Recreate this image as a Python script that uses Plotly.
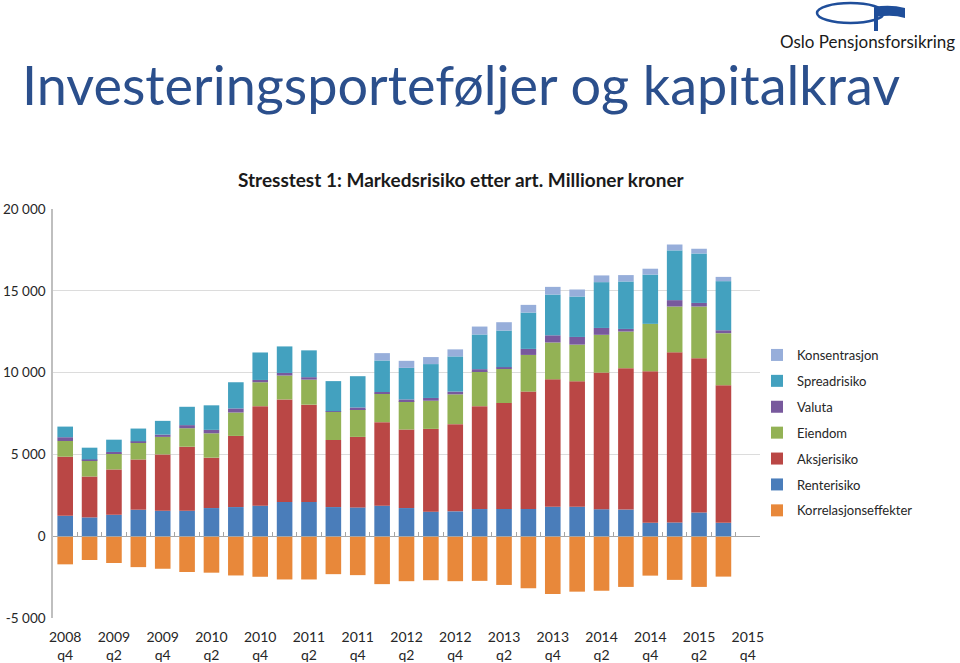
import plotly.graph_objects as go

# ---------------- data ----------------
categories = ["2008 q4", "2009 q1", "2009 q2", "2009 q3", "2009 q4", "2010 q1", "2010 q2", "2010 q3",
              "2010 q4", "2011 q1", "2011 q2", "2011 q3", "2011 q4", "2012 q1", "2012 q2", "2012 q3",
              "2012 q4", "2013 q1", "2013 q2", "2013 q3", "2013 q4", "2014 q1", "2014 q2", "2014 q3",
              "2014 q4", "2015 q1", "2015 q2", "2015 q3", "2015 q4"]

renterisiko = [1250, 1150, 1310, 1620, 1560, 1560, 1720, 1780, 1865, 2090, 2090, 1780, 1760, 1865, 1720,
               1500, 1520, 1660, 1670, 1670, 1800, 1800, 1650, 1630, 820, 840, 1450, 820, None]
aksjerisiko = [3610, 2500, 2770, 3070, 3440, 3910, 3080, 4350, 6085, 6270, 5950, 4100, 4310, 5105, 4800,
               5060, 5330, 6290, 6470, 7170, 7790, 7670, 8350, 8640, 9260, 10400, 9430, 8400, None]
eiendom = [960, 1000, 980, 1030, 1070, 1130, 1490, 1430, 1460, 1460, 1530, 1730, 1700, 1740, 1740,
           1720, 1820, 2140, 2080, 2240, 2250, 2240, 2310, 2240, 2900, 2800, 3160, 3190, None]
valuta = [230, 40, 90, 80, 140, 190, 210, 250, 140, 160, 150, 30, 100, 105, 100,
          170, 170, 120, 110, 370, 440, 470, 420, 160, 0, 390, 220, 180, None]
spreadrisiko = [650, 720, 750, 780, 840, 1120, 1500, 1600, 1680, 1620, 1640, 1840, 1910, 1925, 1930,
                2070, 2150, 2120, 2240, 2220, 2490, 2470, 2800, 2900, 3010, 3040, 3020, 3000, None]
konsentrasjon = [0, 0, 0, 0, 0, 0, 0, 0, 0, 0, 0, 0, 0, 450, 430,
                 430, 430, 485, 510, 470, 470, 430, 410, 390, 360, 360, 290, 260, None]
korrelasjonseffekter = [-1720, -1455, -1640, -1890, -1990, -2190, -2230, -2400, -2480, -2645, -2645, -2320,
                        -2380, -2930, -2750, -2690, -2750, -2730, -2980, -3180, -3530, -3390, -3330, -3100,
                        -2410, -2670, -3100, -2470, None]

tick_cats = categories[::2]
tick_text = [c.replace(" ", "<br>") for c in tick_cats]
y_tickvals = [-5000, 0, 5000, 10000, 15000, 20000]
y_ticktext = ["-5 000", "0", "5 000", "10 000", "15 000", "20 000"]

# (name, values, colour, legend rank)
series = [
    ("Korrelasjonseffekter", korrelasjonseffekter, "#E8883A", 7),
    ("Renterisiko", renterisiko, "#4A7DBA", 6),
    ("Aksjerisiko", aksjerisiko, "#BA4745", 5),
    ("Eiendom", eiendom, "#93B255", 4),
    ("Valuta", valuta, "#78599D", 3),
    ("Spreadrisiko", spreadrisiko, "#43A1BF", 2),
    ("Konsentrasjon", konsentrasjon, "#97AEDA", 1),
]

FONT = "Lato, 'Open Sans', sans-serif"

fig = go.Figure()
for name, vals, col, rank in series:
    fig.add_trace(go.Bar(x=categories, y=vals, name=name, marker=dict(color=col, line=dict(width=0)),
                         legendgroup=name, legendrank=rank))

# pixel -> paper helpers (layout decoration only)
L, R, T, B = 53, 760, 209, 618
def px(x):
    return (x - L) / (R - L)
def py(y):
    return (B - y) / (B - T)

n = len(categories)
fig.update_layout(
    width=960, height=663,
    margin=dict(l=L, r=960 - R, t=T, b=663 - B, autoexpand=False),
    paper_bgcolor="white", plot_bgcolor="white",
    barmode="relative", bargap=0.36,
    font=dict(family=FONT, color="#262626", size=13),
    showlegend=True,
    legend=dict(x=px(757), y=py(340), xanchor="left", yanchor="top",
                traceorder="grouped", tracegroupgap=6,
                font=dict(size=13, color="#262626"), itemwidth=30,
                bgcolor="rgba(0,0,0,0)"),
    xaxis=dict(type="category", categoryorder="array", categoryarray=categories,
               range=[-0.5, n - 0.5], tickvals=tick_cats, ticktext=tick_text,
               ticks="", showline=False, showgrid=False, zeroline=False,
               ticklabelstandoff=9,
               tickfont=dict(size=14, color="#262626")),
    xaxis2=dict(overlaying="x", anchor="free", position=py(536), range=[-0.5, n - 0.5],
                tickvals=[i + 0.5 for i in range(n - 1)], showticklabels=False,
                ticks="inside", ticklen=4, tickcolor="#A6A6A6", tickwidth=1,
                showline=True, linecolor="#A6A6A6", linewidth=1, showgrid=False, zeroline=False),
    yaxis=dict(range=[-5000, 20000], tickvals=y_tickvals, ticktext=y_ticktext,
               showgrid=True, gridcolor="#DCDCDC", gridwidth=1, zeroline=False,
               showline=True, linecolor="#BFBFBF", linewidth=1.5, ticks="",
               ticklabelstandoff=3,
               tickfont=dict(size=13.5, color="#262626")),
)

# dummy invisible trace so xaxis2 is rendered
fig.add_trace(go.Scatter(x=[0], y=[None], xaxis="x2", showlegend=False, hoverinfo="skip"))

annotations = [
    dict(text="Investeringsporteføljer og kapitalkrav", x=px(20), y=py(84), xanchor="left", yanchor="middle",
         font=dict(size=54, color="#2B4F8C", family=FONT), showarrow=False, xref="paper", yref="paper"),
    dict(text="<b>Stresstest 1: Markedsrisiko etter art. Millioner kroner</b>", x=px(461), y=py(179),
         xanchor="center", yanchor="middle", font=dict(size=19, color="#1A1A1A", family=FONT),
         showarrow=False, xref="paper", yref="paper"),
    dict(text="Oslo Pensjonsforsikring", x=px(957), y=py(42), xanchor="right", yanchor="middle",
         font=dict(size=17, color="#1A1A1A", family=FONT), showarrow=False, xref="paper", yref="paper"),
]
fig.update_layout(annotations=annotations)

logo_blue = "#1F4E9A"
shapes = [
    dict(type="circle", xref="paper", yref="paper", x0=px(817), x1=px(884), y0=py(23), y1=py(3),
         line=dict(color=logo_blue, width=2.5), fillcolor="rgba(0,0,0,0)"),
    dict(type="rect", xref="paper", yref="paper", x0=px(874), x1=px(878), y0=py(31), y1=py(8),
         line=dict(width=0), fillcolor=logo_blue),
    dict(type="path", xref="paper", yref="paper",
         path=f"M {px(874)} {py(7)} Q {px(890)} {py(4)} {px(905)} {py(8)} L {px(905)} {py(18)} "
              f"Q {px(892)} {py(14)} {px(876)} {py(17)} Z",
         line=dict(width=0), fillcolor=logo_blue),
]
fig.update_layout(shapes=shapes)

fig.write_html("out.html", config={"displayModeBar": False},
               post_script="document.body.style.margin='0';")
